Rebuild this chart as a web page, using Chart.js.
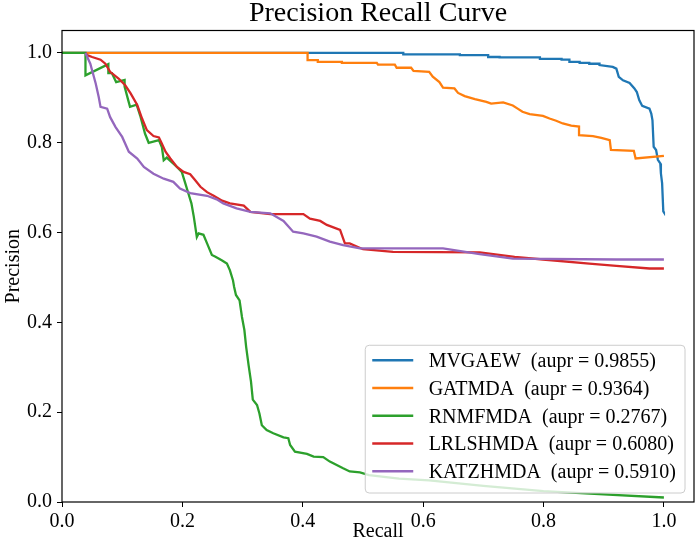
<!DOCTYPE html>
<html><head><meta charset="utf-8">
<script src="https://cdn.jsdelivr.net/npm/chart.js@4.4.0/dist/chart.umd.min.js"></script>
<style>html,body{margin:0;padding:0;background:#fff}canvas{display:block}</style>
</head><body>
<canvas id="c" width="697" height="552"></canvas>
<script>
const seriesNames = ['MVGAEW', 'GATMDA', 'RNMFMDA', 'LRLSHMDA', 'KATZHMDA'];
const auprValues = ['0.9855', '0.9364', '0.2767', '0.6080', '0.5910'];
const seriesColors = ['#1f77b4', '#ff7f0e', '#2ca02c', '#d62728', '#9467bd'];
const tickValues = [0, 0.2, 0.4, 0.6, 0.8, 1.0];

const mvgaewRecall = [0,0.567,0.567,0.661,0.661,0.708,0.708,0.727,0.727,0.794,0.794,0.83,0.83,0.843,0.843,0.86,0.86,0.876,0.876,0.893,0.893,0.915,0.921,0.925,0.932,0.943,0.951,0.955,0.959,0.964,0.976,0.979,0.981,0.983,0.987,0.99,0.994,0.995,0.997,0.999,1.0];
const mvgaewPrecision = [1,1,0.997,0.997,0.995,0.995,0.991,0.991,0.99,0.99,0.987,0.987,0.985,0.985,0.98,0.98,0.978,0.978,0.976,0.976,0.973,0.969,0.965,0.947,0.939,0.933,0.921,0.913,0.895,0.882,0.876,0.865,0.85,0.791,0.784,0.762,0.754,0.732,0.71,0.647,0.645];

const gatmdaRecall = [0,0.408,0.408,0.425,0.425,0.465,0.465,0.523,0.525,0.553,0.556,0.58,0.584,0.61,0.616,0.627,0.633,0.652,0.658,0.669,0.686,0.705,0.713,0.733,0.749,0.757,0.765,0.777,0.799,0.81,0.821,0.832,0.846,0.859,0.859,0.882,0.896,0.91,0.912,0.95,0.953,1.0];
const gatmdaPrecision = [1,1,0.984,0.984,0.98,0.98,0.978,0.978,0.974,0.974,0.967,0.967,0.96,0.958,0.947,0.935,0.923,0.921,0.911,0.904,0.897,0.891,0.887,0.89,0.883,0.876,0.869,0.864,0.86,0.854,0.849,0.843,0.838,0.836,0.817,0.815,0.811,0.806,0.784,0.782,0.765,0.771];

const rnmfmdaRecall = [0,0.039,0.039,0.077,0.077,0.083,0.09,0.104,0.104,0.11,0.113,0.124,0.13,0.138,0.144,0.161,0.166,0.169,0.174,0.191,0.199,0.205,0.21,0.215,0.219,0.224,0.227,0.235,0.241,0.249,0.255,0.266,0.274,0.279,0.284,0.286,0.289,0.295,0.299,0.303,0.306,0.31,0.314,0.317,0.324,0.328,0.332,0.34,0.351,0.368,0.376,0.379,0.387,0.407,0.418,0.434,0.445,0.467,0.478,0.495,0.51,0.56,0.61,0.7,0.8,0.9,1.0];
const rnmfmdaPrecision = [1,1,0.95,0.975,0.955,0.955,0.935,0.94,0.925,0.895,0.88,0.885,0.86,0.82,0.8,0.806,0.79,0.761,0.767,0.746,0.735,0.709,0.687,0.665,0.635,0.59,0.598,0.595,0.576,0.55,0.546,0.538,0.531,0.516,0.494,0.479,0.461,0.449,0.412,0.383,0.345,0.305,0.268,0.228,0.216,0.197,0.171,0.16,0.153,0.144,0.142,0.127,0.112,0.107,0.101,0.1,0.09,0.075,0.068,0.066,0.06,0.052,0.048,0.036,0.024,0.017,0.01];

const lrlshmdaRecall = [0.039,0.042,0.05,0.064,0.072,0.08,0.094,0.105,0.114,0.125,0.133,0.141,0.152,0.161,0.166,0.172,0.18,0.191,0.202,0.213,0.221,0.23,0.241,0.252,0.266,0.279,0.302,0.313,0.346,0.401,0.412,0.429,0.44,0.462,0.47,0.478,0.5,0.55,0.694,0.752,0.799,0.876,0.921,0.976,1.0];
const lrlshmdaPrecision = [1,0.995,0.991,0.985,0.976,0.958,0.943,0.928,0.91,0.884,0.854,0.828,0.815,0.812,0.798,0.78,0.765,0.746,0.735,0.73,0.717,0.702,0.69,0.682,0.671,0.665,0.66,0.646,0.641,0.641,0.631,0.626,0.617,0.606,0.576,0.576,0.563,0.557,0.556,0.546,0.54,0.531,0.526,0.52,0.52];

const katzhmdaRecall = [0.039,0.047,0.056,0.061,0.064,0.075,0.08,0.089,0.1,0.111,0.125,0.136,0.152,0.169,0.185,0.196,0.213,0.241,0.257,0.268,0.29,0.313,0.346,0.368,0.384,0.401,0.423,0.445,0.467,0.495,0.633,0.694,0.749,0.921,1.0];
const katzhmdaPrecision = [1,0.976,0.932,0.902,0.88,0.876,0.857,0.835,0.813,0.78,0.765,0.746,0.731,0.72,0.713,0.698,0.688,0.682,0.674,0.665,0.654,0.646,0.643,0.626,0.602,0.598,0.591,0.58,0.572,0.565,0.565,0.552,0.542,0.54,0.54];

const recallSeries = [mvgaewRecall, gatmdaRecall, rnmfmdaRecall, lrlshmdaRecall, katzhmdaRecall];
const precisionSeries = [mvgaewPrecision, gatmdaPrecision, rnmfmdaPrecision, lrlshmdaPrecision, katzhmdaPrecision];

const FONT = "'Liberation Serif', 'Times New Roman', serif";

const datasets = seriesNames.map((name, i) => ({
  label: name + '  (aupr = ' + auprValues[i] + ')',
  data: recallSeries[i].map((r, k) => ({x: r, y: precisionSeries[i][k]})),
  borderColor: seriesColors[i],
  backgroundColor: seriesColors[i],
  borderWidth: 2.3,
  pointRadius: 0,
  fill: false,
  tension: 0,
  order: seriesNames.length - i
}));

const framePlugin = {
  id: 'frameAndLegend',
  afterDatasetsDraw(chart) {
    const ctx = chart.ctx, a = chart.chartArea;
    ctx.save();
    ctx.strokeStyle = '#000';
    ctx.lineWidth = 1.2;
    ctx.strokeRect(a.left, a.top, a.right - a.left, a.bottom - a.top);
    ctx.font = '20px ' + FONT;
    const ds = chart.data.datasets;
    const maxW = Math.max(...ds.map(d => ctx.measureText(d.label).width));
    const padL = 7, handle = 41, gap = 15.4, padR = 9, rowH = 27.75;
    const w = padL + handle + gap + maxW + padR;
    const h = rowH * ds.length + 9;
    const right = a.right - 9, bottom = a.bottom - 9;
    const left = right - w, top = bottom - h;
    ctx.beginPath();
    ctx.roundRect(left, top, w, h, 4);
    ctx.fillStyle = 'rgba(255,255,255,0.8)';
    ctx.fill();
    ctx.strokeStyle = '#cccccc';
    ctx.lineWidth = 1;
    ctx.stroke();
    ds.forEach((d, i) => {
      const y = top + 15 + i * rowH;
      ctx.strokeStyle = d.borderColor;
      ctx.lineWidth = 2.3;
      ctx.beginPath();
      ctx.moveTo(left + padL, y);
      ctx.lineTo(left + padL + handle, y);
      ctx.stroke();
      ctx.fillStyle = '#000';
      ctx.textAlign = 'left';
      ctx.textBaseline = 'middle';
      ctx.fillText(d.label, left + padL + handle + gap, y + 1.5);
    });
    ctx.restore();
  }
};

function axisCommon(titleText, titlePad) {
  return {
    type: 'linear',
    min: 0,
    max: 1.05,
    grid: {display: true, drawOnChartArea: false, drawTicks: true, tickLength: 5, color: '#000', lineWidth: 1},
    border: {display: false},
    title: {display: true, text: titleText, color: '#000', font: {family: FONT, size: 20, lineHeight: 1.2}, padding: titlePad},
    afterBuildTicks: s => { s.ticks = tickValues.map(v => ({value: v})); }
  };
}

const xScale = axisCommon('Recall', {top: 0, bottom: 8});
xScale.ticks = {color: '#000', font: {family: FONT, size: 20, lineHeight: 1.2}, padding: 3, maxRotation: 0, callback: v => Number(v).toFixed(1)};
xScale.afterFit = s => { s.height = 50; };

const yScale = axisCommon('Precision', {top: 1.25, bottom: 0});
yScale.ticks = {color: '#000', font: {family: FONT, size: 20, lineHeight: 1.2}, padding: 5, callback: v => Number(v).toFixed(1)};
yScale.afterFit = s => { s.width = 62; };

new Chart(document.getElementById('c'), {
  type: 'line',
  data: {datasets},
  options: {
    responsive: false,
    devicePixelRatio: 1,
    animation: false,
    layout: {padding: {left: 0, right: 3, top: 0, bottom: 0}},
    scales: {x: xScale, y: yScale},
    plugins: {
      legend: {display: false},
      tooltip: {enabled: false},
      title: {display: true, fullSize: false, text: 'Precision Recall Curve', color: '#000', font: {family: FONT, size: 28, weight: 'normal', lineHeight: 0.875}, padding: {top: 1.5, bottom: 4.5}}
    }
  },
  plugins: [framePlugin]
});
</script>
</body></html>
